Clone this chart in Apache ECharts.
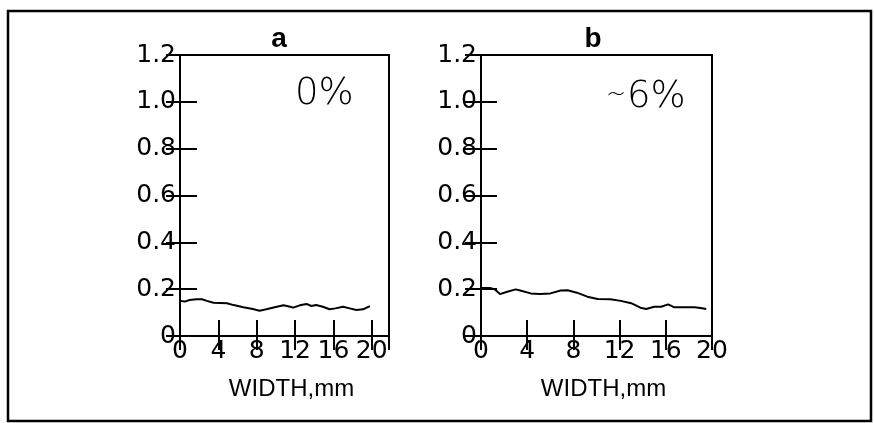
<!DOCTYPE html>
<html>
<head>
<meta charset="utf-8">
<script src="https://cdn.jsdelivr.net/npm/echarts@6/dist/echarts.min.js"></script>
<style>
  html, body { margin: 0; padding: 0; background: #fff; }
  #chart { width: 874px; height: 423px; }
</style>
</head>
<body>
<div id="chart"></div>
<script>
// panel a (0%): width position, mm  /  value
const widthA = [0, 0.5, 1.0, 1.7, 2.3, 2.8, 3.5, 4.9, 5.6, 6.6, 7.6, 8.3, 9.0, 10.1, 10.8, 11.5, 11.8, 12.5, 13.2, 13.7, 14.2, 14.9, 15.6, 16.2, 17.0, 17.7, 18.4, 19.1, 19.8]
const valueA = [0.150, 0.147, 0.154, 0.157, 0.157, 0.150, 0.142, 0.140, 0.132, 0.123, 0.115, 0.108, 0.114, 0.125, 0.131, 0.125, 0.121, 0.131, 0.137, 0.128, 0.132, 0.125, 0.114, 0.118, 0.125, 0.118, 0.111, 0.114, 0.128]

// panel b (~6%)
const widthB = [0, 0.8, 1.2, 1.65, 2.2, 3.0, 3.4, 4.3, 5.1, 6.0, 6.9, 7.5, 8.3, 9.2, 10.1, 11.2, 12.1, 13.0, 13.8, 14.3, 15.0, 15.6, 16.2, 16.7, 17.6, 18.5, 19.0, 19.5]
const valueB = [0.205, 0.205, 0.199, 0.179, 0.188, 0.199, 0.194, 0.182, 0.179, 0.182, 0.194, 0.195, 0.185, 0.168, 0.158, 0.157, 0.150, 0.140, 0.121, 0.115, 0.125, 0.125, 0.135, 0.123, 0.123, 0.123, 0.120, 0.115]

const panelTitles = ['a', 'b']
const panelNotes = ['0%', '6%']
const xAxisName = 'WIDTH,mm'

const pairs = (xs, ys) => xs.map((x, i) => [x, ys[i]])

const tickFont = { fontFamily: 'DejaVu Sans', fontSize: 25, color: '#000' }

function bottomAxis(gridIndex, max) {
    return {
        type: 'value', gridIndex: gridIndex, min: 0, max: max, interval: 4,
        position: 'bottom',
        name: xAxisName, nameLocation: 'middle', nameGap: 41,
        nameTextStyle: { fontFamily: 'Liberation Sans', fontSize: 24, color: '#000', padding: [0, 0, 0, 14] },
        axisLine: { show: false },
        axisTick: { show: true, inside: true, length: 16, lineStyle: { color: '#000', width: 2 } },
        axisLabel: Object.assign({ margin: 3, showMaxLabel: max === 20 }, tickFont),
        splitLine: { show: false }
    }
}
function topAxis(gridIndex, max) {
    return {
        type: 'value', gridIndex: gridIndex, min: 0, max: max, interval: 4,
        position: 'top',
        axisLine: { show: false },
        axisTick: { show: true, inside: true, length: 14, lineStyle: { color: '#000', width: 2 } },
        axisLabel: { show: false },
        splitLine: { show: false }
    }
}
function leftAxis(gridIndex, len) {
    return {
        type: 'value', gridIndex: gridIndex, min: 0, max: 1.2, interval: 0.2,
        position: 'left',
        axisLine: { show: false },
        axisTick: { show: true, inside: true, length: len, lineStyle: { color: '#000', width: 2 } },
        axisLabel: Object.assign({
            margin: 4,
            formatter: function (v) { return v === 0 ? '0' : v.toFixed(1) }
        }, tickFont),
        splitLine: { show: false }
    }
}
function rightAxis(gridIndex, len) {
    return {
        type: 'value', gridIndex: gridIndex, min: 0, max: 1.2, interval: 0.2,
        position: 'right',
        axisLine: { show: false },
        axisTick: { show: true, inside: true, length: len, lineStyle: { color: '#000', width: 2 } },
        axisLabel: { show: false },
        splitLine: { show: false }
    }
}

const chart = echarts.init(document.getElementById('chart'), null, { renderer: 'canvas' })

chart.setOption({
    backgroundColor: '#fff',
    animation: false,
    grid: [
        { left: 180, top: 55, width: 209, height: 281, show: true, borderColor: '#000', borderWidth: 2, backgroundColor: 'transparent' },
        { left: 481, top: 55, width: 231, height: 281, show: true, borderColor: '#000', borderWidth: 2, backgroundColor: 'transparent' }
    ],
    xAxis: [bottomAxis(0, 21.8), topAxis(0, 21.8), bottomAxis(1, 20), topAxis(1, 20)],
    yAxis: [leftAxis(0, 17), rightAxis(0, 14), leftAxis(1, 16), rightAxis(1, 16)],
    graphic: [
        { type: 'rect', shape: { x: 8, y: 11, width: 863, height: 410 }, style: { fill: 'none', stroke: '#000', lineWidth: 2.5 } },
        { type: 'text', x: 279, y: 39, style: { text: panelTitles[0], font: 'bold 28px "Liberation Sans"', fill: '#000', textAlign: 'center', textVerticalAlign: 'middle' } },
        { type: 'text', x: 593, y: 39, style: { text: panelTitles[1], font: 'bold 28px "Liberation Sans"', fill: '#000', textAlign: 'center', textVerticalAlign: 'middle' } },
        { type: 'text', x: 295, y: 94, style: { text: panelNotes[0], font: '200 37px "DejaVu Sans"', fill: '#000', textAlign: 'left', textVerticalAlign: 'middle' } },
        { type: 'text', x: 606, y: 96, style: { text: '~', font: '200 24px "DejaVu Sans"', fill: '#000', textAlign: 'left', textVerticalAlign: 'middle' } },
        { type: 'text', x: 627, y: 97, style: { text: panelNotes[1], font: '200 37px "DejaVu Sans"', fill: '#000', textAlign: 'left', textVerticalAlign: 'middle' } }
    ],
    series: [
        {
            type: 'line', xAxisIndex: 0, yAxisIndex: 0,
            data: pairs(widthA, valueA),
            showSymbol: false, smooth: false,
            lineStyle: { color: '#000', width: 2 }
        },
        {
            type: 'line', xAxisIndex: 2, yAxisIndex: 2,
            data: pairs(widthB, valueB),
            showSymbol: false, smooth: false,
            lineStyle: { color: '#000', width: 2 }
        }
    ]
})
</script>
</body>
</html>
